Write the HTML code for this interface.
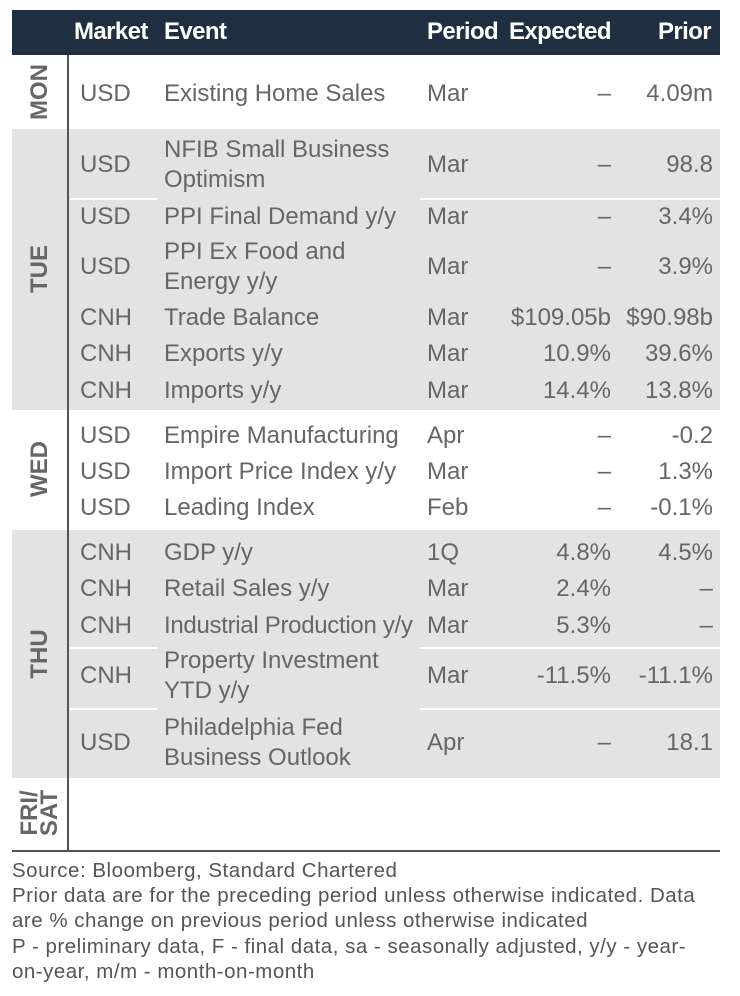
<!DOCTYPE html>
<html><head><meta charset="utf-8"><style>
body{margin:0;width:740px;height:996px;background:#fff;position:relative;font-family:"Liberation Sans",sans-serif;overflow:hidden}
div{position:absolute}
.t{font-size:24px;color:#666;line-height:30px;white-space:nowrap;letter-spacing:0px}
.h{font-size:24px;color:#fff;font-weight:bold;line-height:30px;white-space:nowrap;letter-spacing:-0.6px;top:17px}
.r{text-align:right}
.g{background:#e3e3e3;left:68px;width:652px}
.gd{background:#e3e3e3;left:12px;width:56px}
.w{background:#fff;height:2px}
.day{font-size:24px;font-weight:bold;color:#666;transform:rotate(-90deg);transform-origin:center;text-align:center;width:120px;line-height:22px}
.f{font-size:20.5px;color:#555;line-height:25px;left:12px;white-space:nowrap;letter-spacing:0.5px}
</style></head><body>
<div style="left:12px;top:10px;width:708px;height:45px;background:#1f2e40"></div>
<div class="h" style="left:74px">Market</div>
<div class="h" style="left:164px">Event</div>
<div class="h" style="left:427px">Period</div>
<div class="h" style="left:509px">Expected</div>
<div class="h r" style="left:620px;width:91px">Prior</div>

<div class="gd" style="top:129px;height:281px"></div>
<div class="g" style="top:129px;height:281px"></div>
<div class="gd" style="top:530px;height:248px"></div>
<div class="g" style="top:530px;height:248px"></div>
<div class="w" style="left:70px;width:87px;top:198px"></div>
<div class="w" style="left:420px;width:300px;top:198px"></div>
<div class="w" style="left:70px;width:87px;top:647px"></div>
<div class="w" style="left:420px;width:300px;top:647px"></div>
<div class="w" style="left:70px;width:87px;top:708px"></div>
<div class="w" style="left:420px;width:300px;top:708px"></div>

<div style="left:67px;top:55px;width:2px;height:797px;background:#555"></div>
<div style="left:12px;top:850px;width:708px;height:2px;background:#555"></div>

<div class="day" style="left:-20px;top:81px">MON</div>
<div class="day" style="left:-20px;top:258px">TUE</div>
<div class="day" style="left:-20px;top:458px">WED</div>
<div class="day" style="left:-20px;top:643px">THU</div>
<div class="day" style="left:-20px;top:793px;line-height:20px">FRI/<br>SAT</div>

<div class="t" style="left:80px;top:79px">USD</div><div class="t" style="left:164px;top:79px">Existing Home Sales</div><div class="t" style="left:427px;top:79px">Mar</div><div class="t r" style="left:480px;width:131px;top:79px">–</div><div class="t r" style="left:600px;width:113px;top:79px">4.09m</div>

<div class="t" style="left:80px;top:150px">USD</div><div class="t" style="left:164px;top:135px">NFIB Small Business<br>Optimism</div><div class="t" style="left:427px;top:150px">Mar</div><div class="t r" style="left:480px;width:131px;top:150px">–</div><div class="t r" style="left:600px;width:113px;top:150px">98.8</div>

<div class="t" style="left:80px;top:202px">USD</div><div class="t" style="left:164px;top:202px">PPI Final Demand y/y</div><div class="t" style="left:427px;top:202px">Mar</div><div class="t r" style="left:480px;width:131px;top:202px">–</div><div class="t r" style="left:600px;width:113px;top:202px">3.4%</div>

<div class="t" style="left:80px;top:252px">USD</div><div class="t" style="left:164px;top:237px">PPI Ex Food and<br>Energy y/y</div><div class="t" style="left:427px;top:252px">Mar</div><div class="t r" style="left:480px;width:131px;top:252px">–</div><div class="t r" style="left:600px;width:113px;top:252px">3.9%</div>

<div class="t" style="left:80px;top:303px">CNH</div><div class="t" style="left:164px;top:303px">Trade Balance</div><div class="t" style="left:427px;top:303px">Mar</div><div class="t r" style="left:480px;width:131px;top:303px">$109.05b</div><div class="t r" style="left:600px;width:113px;top:303px">$90.98b</div>

<div class="t" style="left:80px;top:339px">CNH</div><div class="t" style="left:164px;top:339px">Exports y/y</div><div class="t" style="left:427px;top:339px">Mar</div><div class="t r" style="left:480px;width:131px;top:339px">10.9%</div><div class="t r" style="left:600px;width:113px;top:339px">39.6%</div>

<div class="t" style="left:80px;top:376px">CNH</div><div class="t" style="left:164px;top:376px">Imports y/y</div><div class="t" style="left:427px;top:376px">Mar</div><div class="t r" style="left:480px;width:131px;top:376px">14.4%</div><div class="t r" style="left:600px;width:113px;top:376px">13.8%</div>

<div class="t" style="left:80px;top:421px">USD</div><div class="t" style="left:164px;top:421px">Empire Manufacturing</div><div class="t" style="left:427px;top:421px">Apr</div><div class="t r" style="left:480px;width:131px;top:421px">–</div><div class="t r" style="left:600px;width:113px;top:421px">-0.2</div>

<div class="t" style="left:80px;top:457px">USD</div><div class="t" style="left:164px;top:457px">Import Price Index y/y</div><div class="t" style="left:427px;top:457px">Mar</div><div class="t r" style="left:480px;width:131px;top:457px">–</div><div class="t r" style="left:600px;width:113px;top:457px">1.3%</div>

<div class="t" style="left:80px;top:493px">USD</div><div class="t" style="left:164px;top:493px">Leading Index</div><div class="t" style="left:427px;top:493px">Feb</div><div class="t r" style="left:480px;width:131px;top:493px">–</div><div class="t r" style="left:600px;width:113px;top:493px">-0.1%</div>

<div class="t" style="left:80px;top:538px">CNH</div><div class="t" style="left:164px;top:538px">GDP y/y</div><div class="t" style="left:427px;top:538px">1Q</div><div class="t r" style="left:480px;width:131px;top:538px">4.8%</div><div class="t r" style="left:600px;width:113px;top:538px">4.5%</div>

<div class="t" style="left:80px;top:574px">CNH</div><div class="t" style="left:164px;top:574px">Retail Sales y/y</div><div class="t" style="left:427px;top:574px">Mar</div><div class="t r" style="left:480px;width:131px;top:574px">2.4%</div><div class="t r" style="left:600px;width:113px;top:574px">–</div>

<div class="t" style="left:80px;top:611px">CNH</div><div class="t" style="left:164px;top:611px;letter-spacing:-0.3px">Industrial Production y/y</div><div class="t" style="left:427px;top:611px">Mar</div><div class="t r" style="left:480px;width:131px;top:611px">5.3%</div><div class="t r" style="left:600px;width:113px;top:611px">–</div>

<div class="t" style="left:80px;top:661px">CNH</div><div class="t" style="left:164px;top:646px">Property Investment<br>YTD y/y</div><div class="t" style="left:427px;top:661px">Mar</div><div class="t r" style="left:480px;width:131px;top:661px">-11.5%</div><div class="t r" style="left:600px;width:113px;top:661px">-11.1%</div>

<div class="t" style="left:80px;top:728px">USD</div><div class="t" style="left:164px;top:713px">Philadelphia Fed<br>Business Outlook</div><div class="t" style="left:427px;top:728px">Apr</div><div class="t r" style="left:480px;width:131px;top:728px">–</div><div class="t r" style="left:600px;width:113px;top:728px">18.1</div>

<div class="f" style="top:858px">Source: Bloomberg, Standard Chartered</div>
<div class="f" style="top:883px">Prior data are for the preceding period unless otherwise indicated. Data<br>are % change on previous period unless otherwise indicated</div>
<div class="f" style="top:934px">P - preliminary data, F - final data, sa - seasonally adjusted, y/y - year-<br>on-year, m/m - month-on-month</div>
</body></html>
